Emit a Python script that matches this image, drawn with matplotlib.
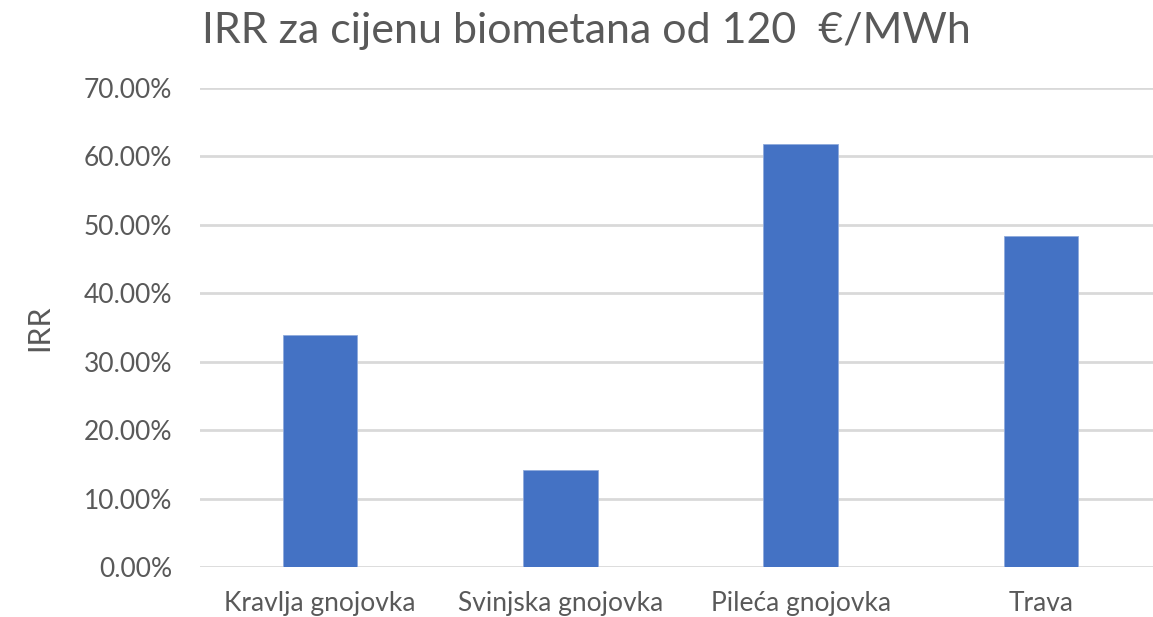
import matplotlib
matplotlib.use("Agg")
import matplotlib.pyplot as plt
from matplotlib.ticker import FuncFormatter

# data
categories = ["Kravlja gnojovka", "Svinjska gnojovka", "Pileća gnojovka", "Trava"]
irr = [0.339, 0.142, 0.618, 0.483]
yticks = [0.0, 0.1, 0.2, 0.3, 0.4, 0.5, 0.6, 0.7]

txt = "#595959"
plt.rcParams['font.family'] = ['Lato', 'DejaVu Sans']

fig = plt.figure(figsize=(11.53, 6.17), dpi=100)
ax = fig.add_axes([200/1153, 1 - 567.3/617, 1 - 200/1153, (567.3 - 87.8)/617])

x = range(len(categories))
ax.bar(x, irr, width=0.31, color="#4472C4", edgecolor="#8faadc", linewidth=0.6, zorder=3)

ax.set_ylim(0, 0.7)
ax.set_xlim(-0.5, 3.5 - 8/240.5)
ax.set_yticks(yticks)
ax.yaxis.set_major_formatter(FuncFormatter(lambda v, p: "%.2f%%" % (v*100)))
ax.set_xticks(list(x))
ax.set_xticklabels(categories)
ax.tick_params(axis='y', length=0, pad=20, labelsize=19, labelcolor=txt)
ax.tick_params(axis='x', length=0, pad=17, labelsize=19, labelcolor=txt)

ax.grid(axis='y', color="#d9d9d9", linewidth=2, zorder=0)
for s in ax.spines.values():
    s.set_visible(False)

ax.set_ylabel("IRR", fontsize=22, color=txt, labelpad=22)
fig.text(586/1153, 1 - 31/617, "IRR za cijenu biometana od 120  €/MWh",
         ha='center', va='center', fontsize=31, color=txt)

fig.savefig("out.png", dpi=100)
